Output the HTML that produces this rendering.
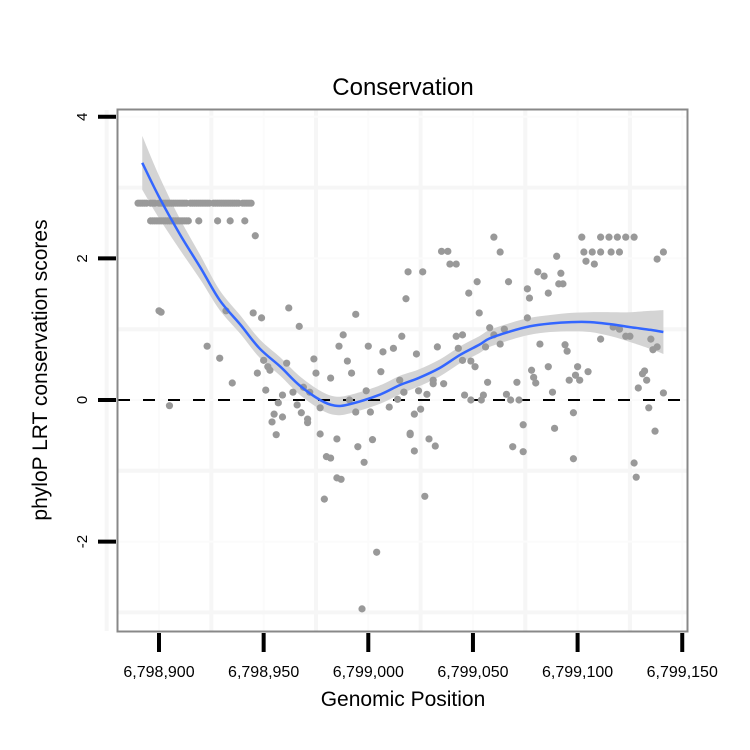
<!DOCTYPE html>
<html><head><meta charset="utf-8"><style>
body{margin:0;background:#fff;}
svg{display:block;font-family:"Liberation Sans",sans-serif;}
</style></head><body>
<svg id="chart" width="750" height="750">
<rect x="0" y="0" width="750" height="750" fill="#fff"/>
<text x="403" y="95" font-size="24" text-anchor="middle">Conservation</text>
<text transform="translate(47,370) rotate(-90)" font-size="21" text-anchor="middle">phyloP LRT conservation scores</text>
<text x="403" y="706" font-size="21" text-anchor="middle">Genomic Position</text>
<g id="grid"></g>
<g id="band"></g>
<g id="zero"></g>
<g id="pts"></g>
<g id="fit"></g>
<rect x="117.5" y="109.5" width="570" height="522" fill="none" stroke="#888" stroke-width="2"/>
<g id="axes"></g>
</svg>
<script>
const xTicks=[6798900,6798950,6799000,6799050,6799100,6799150];
const xTickLabels=["6,798,900","6,798,950","6,799,000","6,799,050","6,799,100","6,799,150"];
const yTicks=[-2,0,2,4];
const yTickLabels=["-2","0","2","4"];
const rowTopX=[890,891,892,893,894,896,897,898,900,901,902,903,904,905,906,907,908,909,910,911,912,913,915,916,917,918,919,920,921,922,923,924,926,927,928,929,930,931,932,933,934,935,936,937,938,940,941,942,943,944];
const rowSecondX=[896,897,898,899,900,901,902,903,904,905,906,907,908,909,910,911,912,913,914,919,928,934,941];
const pointX=[946,900,901,932,945,949,962,967,923,929,935,950,952,953,947,961,974,975,982,992,990,986,988,994,1000,1006,1007,1012,1016,1018,1019,951,959,964,969,972,999,1015,1017,905,957,955,954,959,968,966,971,971,956,977,977,985,980,982,985,987,979,991,994,1001,995,1002,998,1004,997,1010,1014,1020,1017,
1060,1111,1115,1119,1123,1127,1102,1035,1038,1063,1103,1107,1111,1116,1120,1141,1039,1042,1090,1104,1108,1138,1026,1081,1084,1092,1091,1093,1052,1048,1067,1076,1077,1086,1053,1076,1058,1065,1060,1063,1056,1042,1045,1043,1033,1023,1045,1049,1051,1082,1094,1095,1111,1117,1120,1125,1123,1135,1138,1136,1132,1131,1133,1129,1141,1134,1137,1127,1128,1100,1099,1096,1101,1105,1086,1078,1079,1080,1071,1057,1088,1031,1031,1036,1024,1028,1046,1049,1055,1054,1066,1068,1072,1098,1022,1025,1074,1089,1020,1029,1032,1022,1069,1074,1098,1027];
const pointY=[2.32,1.26,1.24,1.26,1.23,1.16,1.30,1.04,0.76,0.59,0.24,0.56,0.47,0.42,0.38,0.52,0.58,0.38,0.31,0.38,0.55,0.76,0.92,1.21,0.76,0.40,0.68,0.73,0.90,1.43,1.81,0.14,0.07,0.11,0.18,0.11,0.13,0.28,0.11,-0.08,-0.04,-0.20,-0.31,-0.24,-0.18,-0.07,-0.32,-0.27,-0.49,-0.11,-0.48,-0.55,-0.80,-0.82,-1.10,-1.12,-1.40,0.0,-0.17,-0.17,-0.66,-0.56,-0.88,-2.15,-2.95,-0.10,0.01,-0.47,0.11,
2.30,2.30,2.30,2.30,2.30,2.30,2.30,2.10,2.10,2.09,2.09,2.09,2.09,2.09,2.09,2.09,1.92,1.92,2.03,1.96,1.92,1.99,1.81,1.81,1.75,1.79,1.64,1.64,1.67,1.51,1.67,1.57,1.44,1.51,1.23,1.16,1.02,1.00,0.92,0.79,0.75,0.90,0.92,0.73,0.75,0.65,0.56,0.55,0.47,0.79,0.78,0.69,0.86,1.03,1.00,0.90,0.90,0.86,0.75,0.71,0.41,0.37,0.28,0.17,0.10,-0.11,-0.44,-0.89,-1.09,0.47,0.35,0.28,0.28,0.40,0.47,0.42,0.32,0.24,0.25,0.25,0.11,0.28,0.23,0.23,0.13,0.08,0.07,0.0,0.07,0.0,0.08,0.0,0.0,-0.18,-0.20,-0.13,-0.35,-0.40,-0.49,-0.55,-0.65,-0.72,-0.66,-0.73,-0.83,-1.36];
const fitX=[892,900,910,920,929,939,948,958,967,977,984,991,1005,1015,1024,1034,1044,1053,1058,1068,1077,1087,1097,1106,1116,1125,1135,1141];
const fitY=[3.35,2.87,2.34,1.86,1.41,1.06,0.73,0.47,0.21,0.0,-0.08,-0.06,0.07,0.21,0.31,0.45,0.64,0.78,0.87,0.97,1.04,1.08,1.10,1.10,1.07,1.03,0.99,0.96];
const fitSE=[0.38,0.30,0.22,0.17,0.14,0.13,0.13,0.13,0.13,0.13,0.13,0.13,0.13,0.13,0.12,0.12,0.12,0.12,0.12,0.12,0.12,0.12,0.13,0.14,0.17,0.21,0.27,0.31];

const NS="http://www.w3.org/2000/svg";
function X(v){return 159+(v-6798900)*2.093;}
function Y(v){return 400-v*70.8;}
function gx(p){return p<1000?6798000+p:6799000+(p-1000);}
function mk(tag,attrs,parent){const e=document.createElementNS(NS,tag);for(const k in attrs)e.setAttribute(k,attrs[k]);parent.appendChild(e);return e;}
function smooth(p,start){let d=start?'M'+p[0][0]+','+p[0][1]:'L'+p[0][0]+','+p[0][1];
  for(let i=0;i<p.length-1;i++){const p0=p[Math.max(0,i-1)],p1=p[i],p2=p[i+1],p3=p[Math.min(p.length-1,i+2)];
    const c1=[p1[0]+(p2[0]-p0[0])/6,p1[1]+(p2[1]-p0[1])/6],c2=[p2[0]-(p3[0]-p1[0])/6,p2[1]-(p3[1]-p1[1])/6];
    d+='C'+c1[0]+','+c1[1]+' '+c2[0]+','+c2[1]+' '+p2[0]+','+p2[1];}
  return d;}
const grid=document.getElementById('grid');
for(let v=6798875;v<=6799150;v+=25){
  const minor=(v%50)!==0;
  const l=mk('line',{x1:X(v),x2:X(v),y1:110,y2:631,stroke:minor?'#f6f6f6':'#fbfbfb','stroke-width':minor?4:2},grid);
  
  
}
for(let v=-3;v<=4;v+=1){
  const minor=(v%2)!==0;
  const l=mk('line',{x1:118,x2:687,y1:Y(v),y2:Y(v),stroke:minor?'#f6f6f6':'#fbfbfb','stroke-width':minor?4:2},grid);
  
  
}
let up=[],dn=[],mid=[];
for(let i=0;i<fitX.length;i++){const x=X(gx(fitX[i]));up.push([x,Y(fitY[i]+fitSE[i])]);dn.unshift([x,Y(fitY[i]-fitSE[i])]);mid.push([x,Y(fitY[i])]);}
const band=mk('path',{d:smooth(up,true)+smooth(dn,false)+'Z',fill:'#d4d4d4'},document.getElementById('band'));


const zl=mk('line',{x1:118,x2:687,y1:Y(0),y2:Y(0),stroke:'#000','stroke-width':2,'stroke-dasharray':'12,13'},document.getElementById('zero'));


const pts=document.getElementById('pts');
function dot(x,y){const c=mk('circle',{cx:X(gx(x)),cy:Y(y),r:3.6,fill:'#999'},pts);
  
  }
rowTopX.forEach(x=>dot(x,2.78));
rowSecondX.forEach(x=>dot(x,2.53));
pointX.forEach((x,i)=>dot(x,pointY[i]));
const fl=mk('path',{d:smooth(mid,true),fill:'none',stroke:'#3366ff','stroke-width':2.5,'stroke-linejoin':'round'},document.getElementById('fit'));


const axes=document.getElementById('axes');
xTicks.forEach((v,i)=>{
  const t=mk('line',{x1:X(v),x2:X(v),y1:633,y2:652,stroke:'#000','stroke-width':4},axes);
  
  
  const s=mk('text',{x:X(v),y:677,'font-size':16,'text-anchor':'middle'},axes);
  s.textContent=xTickLabels[i];
  
  
});
yTicks.forEach((v,i)=>{
  const t=mk('line',{x1:98,x2:116,y1:Y(v),y2:Y(v),stroke:'#000','stroke-width':4},axes);
  
  
  const s=mk('text',{transform:'translate(87,'+Y(v)+') rotate(-90)','font-size':15,'text-anchor':'middle'},axes);
  s.textContent=yTickLabels[i];
  
  
});
</script>
</body></html>
